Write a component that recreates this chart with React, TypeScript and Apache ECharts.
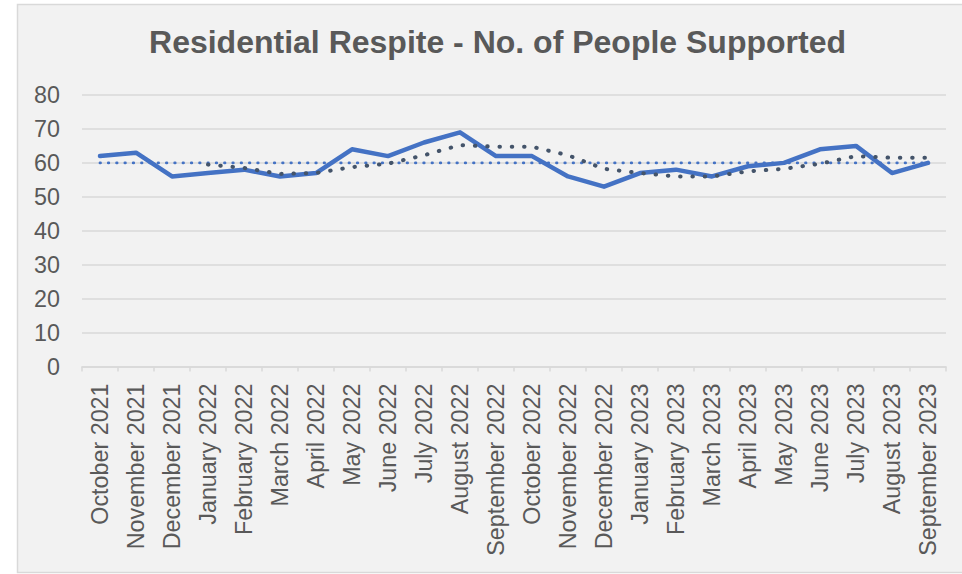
import React, { useEffect, useRef } from "react";
import * as echarts from "echarts";

const categories = [
  "October 2021", "November 2021", "December 2021", "January 2022", "February 2022",
  "March 2022", "April 2022", "May 2022", "June 2022", "July 2022", "August 2022",
  "September 2022", "October 2022", "November 2022", "December 2022", "January 2023",
  "February 2023", "March 2023", "April 2023", "May 2023", "June 2023", "July 2023",
  "August 2023", "September 2023",
];

const peopleSupported = [62, 63, 56, 57, 58, 56, 57, 64, 62, 66, 69, 62, 62, 56, 53, 57, 58, 56, 59, 60, 64, 65, 57, 60];

const averageLine = [60, 60, 60, 60, 60, 60, 60, 60, 60, 60, 60, 60, 60, 60, 60, 60, 60, 60, 60, 60, 60, 60, 60, 60];

const movingAverage = [null, null, null, 59.5, 58.5, 56.75, 57, 58.75, 59.75, 62.25, 65.25, 64.75, 64.75, 62.25, 58.25, 57, 56, 56, 57.5, 58.25, 59.75, 62, 61.5, 61.5];

const yTicks = { min: 0, max: 80, interval: 10 };

const titleText = "Residential Respite - No. of People Supported";

const FONT = '"Liberation Sans", Arial, sans-serif';

export default function App() {
  const ref = useRef<HTMLDivElement>(null);
  useEffect(() => {
    if (!ref.current) return;
    const chart = echarts.init(ref.current, null, { renderer: "svg" });
    chart.setOption({
      animation: false,
      backgroundColor: "#FFFFFF",
      graphic: [
        {
          type: "rect",
          z: -10,
          silent: true,
          shape: { x: 17.5, y: 4.5, width: 960, height: 568 },
          style: { fill: "#F2F2F2", stroke: "#D9D9D9", lineWidth: 1.5 },
        },
        {
          type: "text",
          x: 497.5,
          y: 41.7,
          style: {
            text: titleText,
            fill: "#595959",
            font: `bold 32px ${FONT}`,
            textAlign: "center",
            textVerticalAlign: "middle",
          },
        },
      ],
      grid: { left: 82, right: 16, top: 95, bottom: 207.5, containLabel: false },
      xAxis: {
        type: "category",
        data: categories,
        boundaryGap: true,
        axisLine: { show: true, lineStyle: { color: "#D9D9D9", width: 1.5 } },
        axisTick: { show: true, length: 5, lineStyle: { color: "#D9D9D9", width: 1.5 } },
        axisLabel: {
          rotate: 90,
          interval: 0,
          margin: 17,
          color: "#595959",
          fontSize: 23.3,
          fontFamily: FONT,
        },
        splitLine: { show: false },
      },
      yAxis: {
        type: "value",
        min: yTicks.min,
        max: yTicks.max,
        interval: yTicks.interval,
        axisLine: { show: false },
        axisTick: { show: false },
        axisLabel: { margin: 22, color: "#595959", fontSize: 23.3, fontFamily: FONT },
        splitLine: { lineStyle: { color: "#D9D9D9", width: 1.5 } },
      },
      series: [
        {
          name: "People Supported",
          type: "line",
          data: peopleSupported,
          showSymbol: false,
          symbol: "none",
          z: 3,
          lineStyle: { color: "#4472C4", width: 4.5, cap: "round", join: "round" },
        },
        {
          name: "Average",
          type: "line",
          data: averageLine,
          showSymbol: false,
          symbol: "none",
          z: 2,
          lineStyle: { color: "#4472C4", width: 2.8, type: [0.5, 7.8], cap: "round" },
        },
        {
          name: "4 per. Mov. Avg.",
          type: "line",
          data: movingAverage,
          showSymbol: false,
          symbol: "none",
          z: 4,
          lineStyle: { color: "#44546A", width: 4, type: [0.5, 11.8], cap: "round" },
        },
      ],
    });
    return () => chart.dispose();
  }, []);
  return (
    <div
      ref={ref}
      style={{ position: "absolute", left: 0, top: 0, width: 962, height: 574 }}
    />
  );
}
